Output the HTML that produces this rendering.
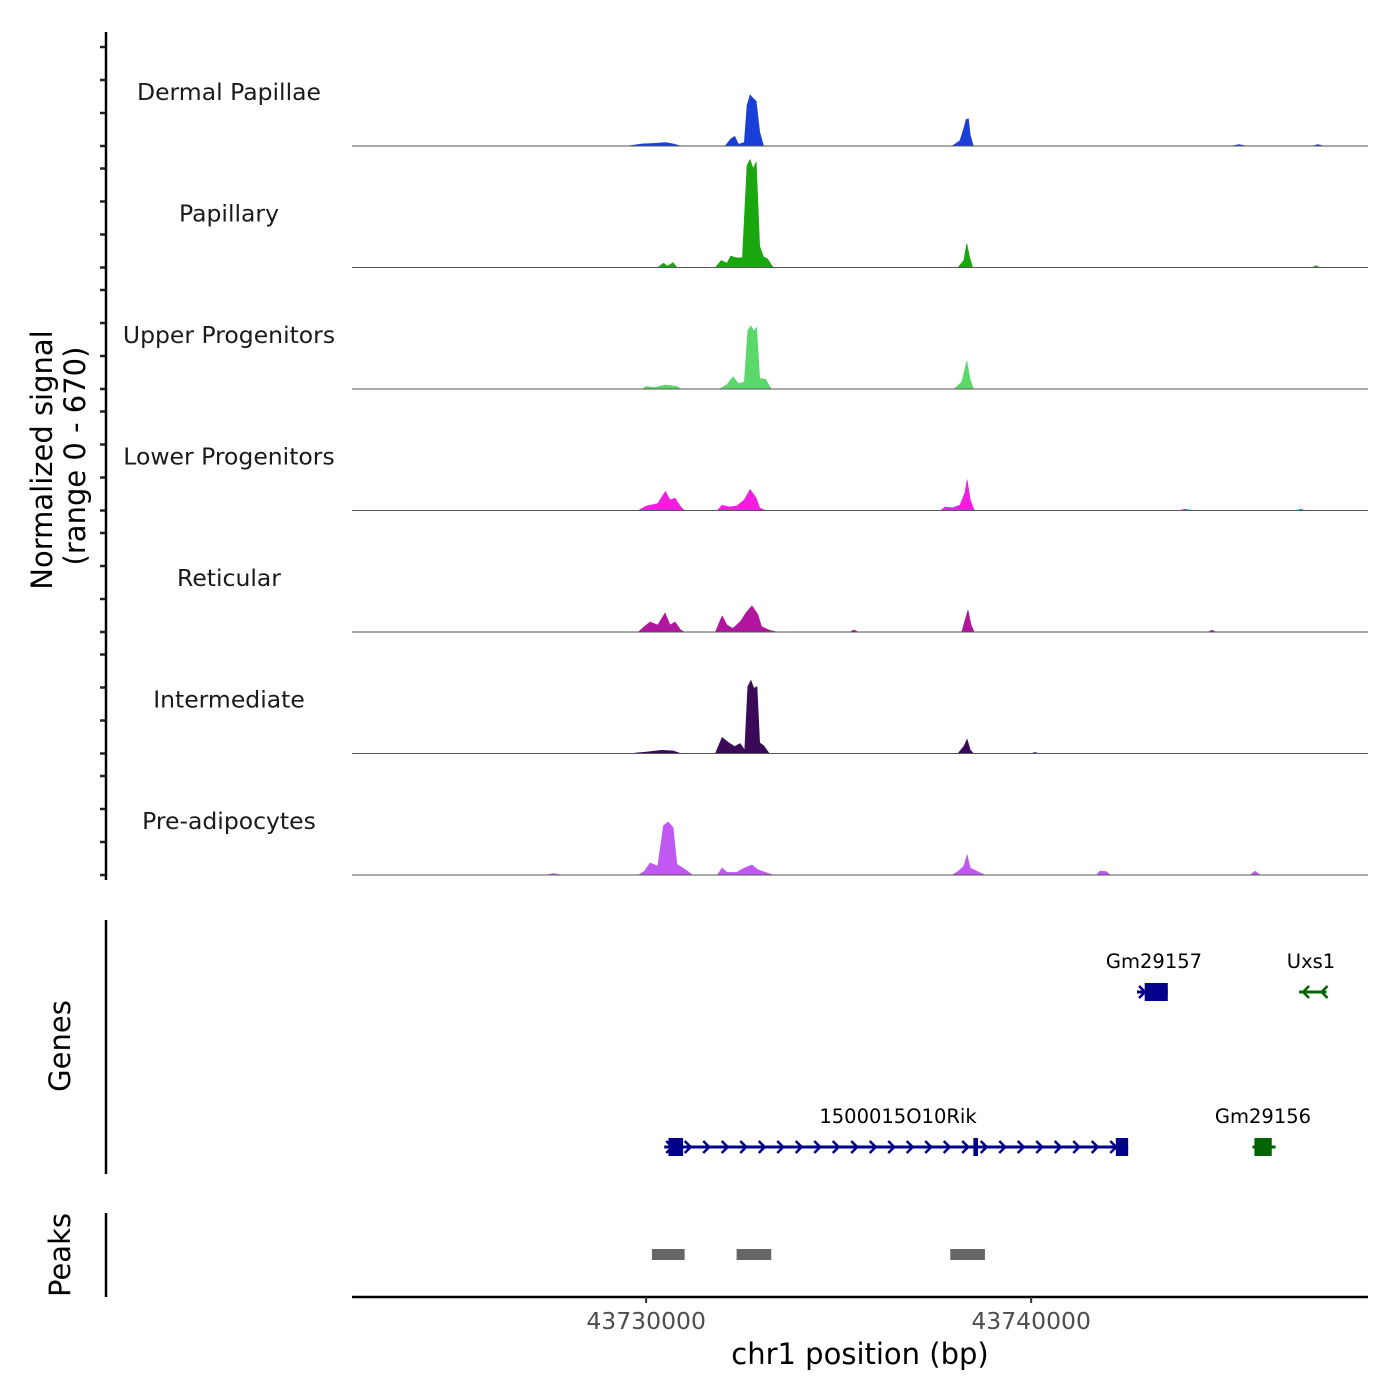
<!DOCTYPE html>
<html><head><meta charset="utf-8"><style>
body{margin:0;background:#fff;}
svg{display:block;font-family:"DejaVu Sans","Liberation Sans",sans-serif;}
</style></head><body>
<svg id="chart" width="1400" height="1400" viewBox="0 0 1400 1400" xmlns="http://www.w3.org/2000/svg">
<rect width="1400" height="1400" fill="#fff"/>
<g id="tracks"></g>
<g id="genes"></g>
<g id="peaks"></g>
<line x1="106" y1="32" x2="106" y2="880" stroke="#000" stroke-width="2.5"/>
<line x1="106" y1="920" x2="106" y2="1174" stroke="#000" stroke-width="2.5"/>
<line x1="106" y1="1213" x2="106" y2="1297" stroke="#000" stroke-width="2.5"/>
<line x1="352" y1="1297" x2="1368" y2="1297" stroke="#000" stroke-width="2.5"/>
<text transform="translate(52,460) rotate(-90)" text-anchor="middle" font-size="29" fill="#000">Normalized signal</text>
<text transform="translate(85,456) rotate(-90)" text-anchor="middle" font-size="29" fill="#000">(range 0 - 670)</text>
<text transform="translate(70,1046) rotate(-90)" text-anchor="middle" font-size="29" fill="#000">Genes</text>
<text transform="translate(70,1255) rotate(-90)" text-anchor="middle" font-size="29" fill="#000">Peaks</text>
<text x="860" y="1364" text-anchor="middle" font-size="29" fill="#000">chr1 position (bp)</text>
<g id="xticks"></g>
</svg>
<script>
const trackNames = ["Dermal Papillae","Papillary","Upper Progenitors","Lower Progenitors","Reticular","Intermediate","Pre-adipocytes"];
const trackColors = ["#1a3fd9","#1aa60f","#5ad86a","#f01fe0","#b0169f","#3a0a58","#c058f2"];
const xTicks = [43730000, 43740000];
const xTickLabels = ["43730000","43740000"];
const peakRegions = [[43730150,43731000],[43732350,43733250],[43737900,43738800]];
const sig0 = [[43729500,0],[43729900,12],[43730200,15],[43730500,20],[43730700,12],[43730900,0],[43732050,0],[43732200,40],[43732300,55],[43732400,10],[43732550,20],[43732620,230],[43732700,290],[43732780,270],[43732860,255],[43732950,80],[43733050,0],[43737950,0],[43738150,30],[43738250,100],[43738310,150],[43738370,155],[43738420,60],[43738500,0],[43745200,0],[43745400,8],[43745600,0],[43747300,0],[43747450,8],[43747600,0]];
const sig1 = [[43730300,0],[43730450,25],[43730550,8],[43730700,28],[43730800,0],[43731800,0],[43731950,40],[43732100,25],[43732200,65],[43732350,55],[43732500,55],[43732620,580],[43732700,613],[43732780,560],[43732860,600],[43732950,120],[43733050,60],[43733150,50],[43733300,0],[43738100,0],[43738250,40],[43738330,136],[43738400,60],[43738480,0],[43747300,0],[43747400,10],[43747500,0]];
const sig2 = [[43729900,0],[43730000,15],[43730200,8],[43730500,22],[43730800,15],[43730900,0],[43731900,0],[43732100,25],[43732260,70],[43732400,30],[43732550,40],[43732640,330],[43732720,358],[43732800,330],[43732870,350],[43732950,60],[43733100,55],[43733250,0],[43738000,0],[43738200,40],[43738330,159],[43738420,50],[43738500,0]];
const sig3 = [[43729800,0],[43730000,25],[43730300,40],[43730500,108],[43730620,60],[43730753,70],[43730900,20],[43731000,0],[43731850,0],[43731974,30],[43732150,20],[43732350,25],[43732550,60],[43732700,119],[43732860,70],[43732950,15],[43733100,0],[43737650,0],[43737765,20],[43737950,15],[43738150,30],[43738280,100],[43738337,176],[43738420,60],[43738520,0],[43743850,0],[43744000,8],[43744150,0],[43746900,0],[43747000,8],[43747100,0]];
const sig4 = [[43729800,0],[43729950,30],[43730104,57],[43730300,40],[43730493,108],[43730620,40],[43730753,57],[43730900,10],[43731000,0],[43731800,0],[43731974,91],[43732100,40],[43732250,20],[43732450,60],[43732600,110],[43732750,148],[43732900,100],[43733000,30],[43733200,10],[43733400,0],[43735300,0],[43735400,12],[43735500,0],[43738200,0],[43738300,80],[43738360,125],[43738440,40],[43738520,0],[43744600,0],[43744700,10],[43744800,0]];
const sig5 = [[43729600,0],[43730000,8],[43730400,18],[43730700,15],[43730900,0],[43731800,0],[43731974,91],[43732150,60],[43732300,40],[43732441,57],[43732560,20],[43732640,380],[43732720,415],[43732800,370],[43732880,380],[43732950,60],[43733050,45],[43733200,0],[43738100,0],[43738250,40],[43738337,80],[43738420,20],[43738500,0],[43740000,0],[43740100,6],[43740200,0]];
const sig6 = [[43727400,0],[43727600,8],[43727800,0],[43729800,0],[43729950,20],[43730104,68],[43730300,50],[43730450,280],[43730571,301],[43730700,270],[43730800,60],[43731039,28],[43731200,0],[43731850,0],[43731974,40],[43732100,15],[43732350,15],[43732550,40],[43732750,57],[43732900,30],[43733100,15],[43733300,0],[43737950,0],[43738100,20],[43738250,50],[43738337,114],[43738420,40],[43738650,15],[43738800,0],[43741700,0],[43741790,22],[43741950,20],[43742050,0],[43745700,0],[43745815,22],[43745950,0]];
const signals = [sig0,sig1,sig2,sig3,sig4,sig5,sig6];

const NS="http://www.w3.org/2000/svg";
const X0=43722360, X1=43748750, PX0=352, PX1=1368;
const xs = v => PX0 + (v - X0) / (X1 - X0) * (PX1 - PX0);
const base0 = 146, trackH = 121.5, ymax = 670, trackPx = 118;
const ys = (i, v) => base0 + i * trackH - v / ymax * trackPx;
function mk(tag, attrs, parent){const e=document.createElementNS(NS,tag);for(const k in attrs)e.setAttribute(k,attrs[k]);parent.appendChild(e);return e;}
const gT=document.getElementById('tracks');
signals.forEach((s,i)=>{
  const g=mk('g',{},gT);
  
  
  const b=ys(i,0);
  let d='M'+xs(s[0][0])+','+b;
  s.forEach(p=>{d+=' L'+xs(p[0]).toFixed(1)+','+ys(i,p[1]).toFixed(1);});
  d+=' L'+xs(s[s.length-1][0])+','+b+' Z';
  const a=mk('path',{d:d,fill:trackColors[i],stroke:trackColors[i],'stroke-width':0.6},g);
  
  
  const bl=mk('line',{x1:PX0,x2:PX1,y1:b,y2:b,stroke:'#555','stroke-width':1},g);
  
  
  const t=mk('text',{x:229,y:b-46,'text-anchor':'middle','font-size':23.5,fill:'#1a1a1a'},g);
  t.textContent=trackNames[i];
  
  
  for(let k=0;k<4;k++){
    const tk=mk('line',{x1:100,x2:106,y1:b-33*k,y2:b-33*k,stroke:'#222','stroke-width':2.5},g);
    
    
  }
});
const gx=document.getElementById('xticks');
xTicks.forEach((v,i)=>{
  const l=mk('line',{x1:xs(v),x2:xs(v),y1:1297,y2:1303,stroke:'#333','stroke-width':2},gx);
  
  
  const t=mk('text',{x:xs(v),y:1329,'text-anchor':'middle','font-size':23.5,fill:'#4d4d4d'},gx);
  t.textContent=xTickLabels[i];
  
  
});
const gp=document.getElementById('peaks');
peakRegions.forEach(p=>{
  const r=mk('rect',{x:xs(p[0]),y:1249,width:xs(p[1])-xs(p[0]),height:11,fill:'#666'},gp);
  
  
});
const gg=document.getElementById('genes');
function chev(x,y,col,dir,g){const s=dir>0?1:-1;mk('path',{d:`M${x-4*s},${y-6} L${x+2*s},${y} L${x-4*s},${y+6}`,fill:'none',stroke:col,'stroke-width':2.5},g);}
function gene(name,start,end,y,col,dir,exons,lx){
  const g=mk('g',{},gg);
  
  
  const a=xs(start),b=xs(end);
  mk('line',{x1:a,x2:b,y1:y,y2:y,stroke:col,'stroke-width':3},g);
  for(let x=a+6;x<b-2;x+=18.5) chev(x,y,col,dir,g);
  exons.forEach(e=>mk('rect',{x:xs(e[0]),y:y-9,width:Math.max(3,xs(e[1])-xs(e[0])),height:18,fill:col},g));
  const t=mk('text',{x:lx,y:y-24,'text-anchor':'middle','font-size':19.5,fill:'#000'},g);
  t.textContent=name;
}
gene('1500015O10Rik',43730470,43742520,1147,'#00008b',1,[[43730580,43730960],[43738500,43738620],[43742200,43742520]],898);
gene('Gm29157',43742750,43743550,992,'#00008b',1,[[43742950,43743550]],1154);
gene('Gm29156',43745750,43746350,1147,'#006400',-1,[[43745800,43746250]],1263);
gene('Uxs1',43746960,43747670,992,'#006400',-1,[],1311);
</script>
</body></html>
